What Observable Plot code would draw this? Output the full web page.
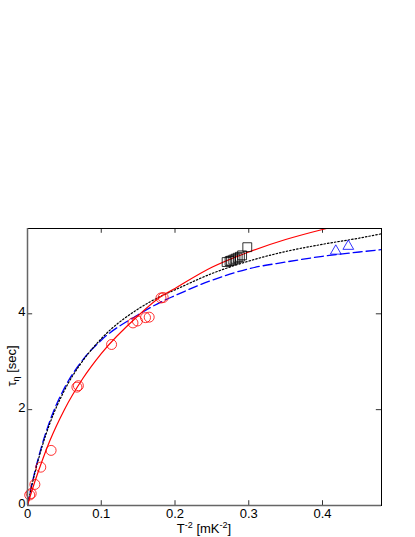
<!DOCTYPE html>
<html><head><meta charset="utf-8">
<script src="https://cdn.jsdelivr.net/npm/d3@7"></script>
<script src="https://cdn.jsdelivr.net/npm/@observablehq/plot@0.6"></script>
<style>body{margin:0;background:#fff} svg{display:block}</style>
</head><body><div id="chart"></div>
<script>
// measured data (red circles)
const circleX = [0.003, 0.005, 0.010, 0.018, 0.032, 0.067, 0.069, 0.114, 0.143, 0.149, 0.160, 0.165, 0.181, 0.184];
const circleY = [0.22, 0.25, 0.44, 0.80, 1.15, 2.47, 2.50, 3.36, 3.81, 3.85, 3.92, 3.93, 4.33, 4.34];
// black squares
const squareX = [0.270, 0.274, 0.276, 0.279, 0.282, 0.285, 0.288, 0.291, 0.298];
const squareY = [5.08, 5.10, 5.11, 5.13, 5.15, 5.17, 5.19, 5.22, 5.39];
// blue triangles
const triX = [0.418, 0.435];
const triY = [5.31, 5.41];
// fitted curves
const curveX   = [0, 0.005, 0.01, 0.02, 0.03, 0.05, 0.075, 0.1, 0.15, 0.18, 0.2, 0.25, 0.3, 0.35, 0.4, 0.45, 0.48];
const redFit   = [0, 0.26, 0.50, 0.94, 1.34, 2.00, 2.65, 3.17, 3.96, 4.35, 4.53, 4.97, 5.29, 5.55, 5.76, 5.94, 6.03];
const blackFit = [0, 0.36, 0.68, 1.24, 1.70, 2.40, 3.02, 3.48, 4.10, 4.36, 4.50, 4.84, 5.10, 5.30, 5.45, 5.58, 5.67];
const blueFit  = [0, 0.38, 0.71, 1.28, 1.75, 2.45, 3.04, 3.45, 3.98, 4.24, 4.38, 4.70, 4.94, 5.08, 5.20, 5.29, 5.34];
const xTicks = [0, 0.1, 0.2, 0.3, 0.4];
const yTicks = [0, 2, 4];
const xDomain = [0, 0.48];
const yDomain = [0, 5.78];

const circles = circleX.map((x, i) => ({x, y: circleY[i]}));
const squares = squareX.map((x, i) => ({x, y: squareY[i]}));
const tris = triX.map((x, i) => ({x, y: triY[i]}));
const curves = curveX.map((x, i) => ({x, red: redFit[i], black: blackFit[i], blue: blueFit[i]}));

const font = "'Liberation Sans', Arial, Helvetica, sans-serif";
const chart = Plot.plot({
  width: 415, height: 537,
  marginLeft: 27, marginRight: 34, marginTop: 228, marginBottom: 32,
  style: {fontFamily: font, fontSize: "13px", color: "black", background: "white"},
  x: {domain: xDomain, ticks: xTicks, label: null},
  y: {domain: yDomain, ticks: yTicks, label: null},
  marks: [
    Plot.axisX({ticks: xTicks, tickSize: 0, tickPadding: 3, label: null, fontSize: 13, tickFormat: d => String(d)}),
    Plot.axisY({ticks: yTicks, tickSize: 0, tickPadding: 2, label: null, fontSize: 13, dy: -2, tickFormat: d => String(d)}),
    Plot.ruleX(xTicks, {x: d => d, y1: 0, y2: 0.1, stroke: "#333"}),
    Plot.ruleX(xTicks, {x: d => d, y1: 5.68, y2: 5.78, stroke: "#333"}),
    Plot.ruleY(yTicks, {y: d => d, x1: 0, x2: 0.007, stroke: "#333"}),
    Plot.ruleY(yTicks, {y: d => d, x1: 0.473, x2: 0.48, stroke: "#333"}),
    Plot.line(curves, {x: "x", y: "blue", stroke: "blue", strokeWidth: 1.3, strokeDasharray: "9,4", curve: "monotone-x", clip: true}),
    Plot.line(curves, {x: "x", y: "black", stroke: "black", strokeWidth: 1.2, strokeDasharray: "1.5,2", curve: "monotone-x", clip: true}),
    Plot.line(curves, {x: "x", y: "red", stroke: "red", strokeWidth: 1.2, curve: "monotone-x", clip: true}),
    Plot.dot(circles, {x: "x", y: "y", r: 5, stroke: "red", strokeWidth: 0.8, fill: "none"}),
    Plot.dot(squares, {x: "x", y: "y", r: 5, symbol: "square", stroke: "black", strokeWidth: 0.8, fill: "none"}),
    Plot.dot(tris, {x: "x", y: "y", r: 4, symbol: "triangle", stroke: "blue", strokeWidth: 0.8, fill: "none"}),
    Plot.frame({stroke: "black"}),
    Plot.ruleX([0], {stroke: "#666", strokeWidth: 1.5}),
    Plot.ruleY([0], {stroke: "#666", strokeWidth: 1.5})
  ]
});

const svg = d3.select(chart);
// x label: T^-2 [mK^-2]
const xl = svg.append("text").attr("x", 204).attr("y", 533).attr("text-anchor", "middle")
  .attr("font-family", font).attr("font-size", 13).attr("fill", "black");
xl.append("tspan").text("T");
xl.append("tspan").attr("font-size", 9).attr("dy", -5).text("-2");
xl.append("tspan").attr("dy", 5).text(" [mK");
xl.append("tspan").attr("font-size", 9).attr("dy", -5).text("-2");
xl.append("tspan").attr("dy", 5).text("]");
// y label: tau_eta [sec]
const yl = svg.append("text").attr("transform", "translate(16,366) rotate(-90)").attr("text-anchor", "middle")
  .attr("font-family", font).attr("font-size", 13).attr("fill", "black");
yl.append("tspan").text("τ");
yl.append("tspan").attr("font-size", 9).attr("dy", 3).text("η");
yl.append("tspan").attr("dy", -3).text(" [sec]");

document.getElementById("chart").appendChild(chart);
</script>
</body></html>
